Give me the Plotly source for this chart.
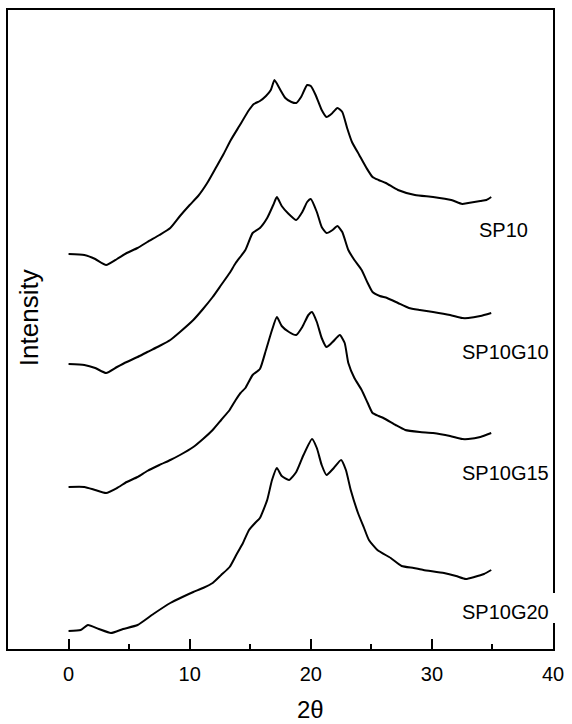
import plotly.graph_objects as go

# ---- data (2-theta, intensity in arbitrary units) ----
sp10_x = [0.0, 1.3, 2.2, 3.1, 4.0, 4.8, 5.7, 6.5, 7.5, 8.4, 9.2, 10.0, 10.7, 11.5, 12.2, 12.8, 13.4, 14.1,
          14.9, 15.3, 15.8, 16.3, 16.7, 17.0, 17.4, 17.9, 18.4, 18.8, 19.2, 19.7, 20.0, 20.4, 20.9, 21.3,
          21.7, 22.2, 22.6, 23.0, 23.4, 24.0, 24.6, 25.1, 25.6, 26.2, 27.2, 28.6, 30.1, 31.6, 32.5, 33.0,
          34.0, 34.5, 34.9]
sp10_y = [395, 394, 390, 384, 390, 396, 401, 407, 414, 421, 433, 444, 453, 467, 482, 495, 509, 523,
          539, 545, 548, 553, 559, 569, 561, 551, 547, 546, 552, 564, 563, 554, 539, 532,
          535, 541, 537, 521, 507, 494, 481, 472, 469, 466, 459, 454, 452, 449, 445, 446,
          448, 449, 452]

sp10g10_x = [0.0, 1.3, 2.2, 3.1, 4.0, 4.8, 5.7, 6.5, 7.5, 8.4, 9.2, 10.3, 11.1, 11.9, 12.6, 13.3, 13.8, 14.6,
             15.2, 15.8, 16.4, 16.9, 17.2, 17.6, 18.1, 18.8, 19.3, 19.7, 20.0, 20.5, 20.9, 21.3, 21.8, 22.2,
             22.6, 23.1, 23.6, 24.2, 24.7, 25.1, 25.7, 26.3, 27.2, 28.1, 29.0, 30.1, 31.5, 32.5, 33.0, 34.0, 34.9]
sp10g10_y = [285, 284, 281, 276, 282, 287, 292, 297, 303, 309, 317, 329, 340, 352, 364, 376, 386, 399,
             416, 421, 431, 444, 452, 443, 436, 429, 437, 447, 450, 437, 422, 416, 419, 423,
             417, 399, 389, 379, 366, 357, 353, 351, 346, 341, 339, 337, 334, 331, 331, 333, 336]

sp10g15_x = [0.0, 1.3, 2.2, 3.1, 4.0, 4.8, 5.7, 6.5, 7.5, 8.4, 9.2, 10.3, 11.1, 11.9, 12.6, 13.3, 13.8, 14.2,
             14.6, 15.2, 15.8, 16.3, 16.8, 17.2, 17.6, 18.2, 18.8, 19.3, 19.8, 20.1, 20.5, 20.9, 21.3, 21.8,
             22.4, 22.8, 23.1, 23.6, 24.2, 24.7, 25.1, 25.6, 26.0, 27.0, 27.8, 29.0, 30.1, 31.5, 32.5, 33.0,
             34.0, 34.9]
sp10g15_y = [162, 162, 159, 156, 161, 167, 172, 178, 184, 189, 194, 202, 210, 219, 229, 239, 249, 256,
             261, 274, 280, 299, 319, 332, 323, 317, 314, 322, 334, 337, 327, 311, 302, 307,
             314, 306, 286, 271, 259, 246, 236, 233, 231, 224, 219, 217, 216, 213, 210, 210,
             212, 216]

sp10g20_x = [0.0, 1.0, 1.6, 2.5, 3.5, 4.5, 5.7, 7.0, 8.4, 9.4, 10.3, 11.1, 11.9, 12.6, 13.3, 13.8, 14.4, 14.9,
             15.4, 15.8, 16.4, 16.8, 17.2, 17.6, 18.2, 18.8, 19.4, 20.1, 20.5, 20.9, 21.3, 21.9, 22.5, 22.9,
             23.3, 23.9, 24.4, 24.8, 25.5, 26.6, 27.5, 28.5, 29.3, 31.0, 32.0, 32.8, 33.5, 34.3, 34.9]
sp10g20_y = [18, 19, 24, 20, 16, 20, 24, 35, 46, 52, 57, 61, 66, 74, 82, 93, 106, 119,
             126, 131, 149, 169, 181, 173, 169, 177, 194, 210, 201, 184, 174, 181, 189, 179,
             159, 136, 121, 109, 99, 91, 83, 81, 79, 76, 73, 70, 72, 75, 79]

series_names = ["SP10", "SP10G10", "SP10G15", "SP10G20"]
label_x = [35.9, 36.1, 36.1, 36.1]
label_y = [419, 297, 176, 37]

x_ticks = [0, 10, 20, 30, 40]
x_range = [-5, 40]
y_range = [0, 639]

FONT = "Liberation Sans, Arial, sans-serif"

fig = go.Figure()
for name, xs, ys in zip(series_names,
                        [sp10_x, sp10g10_x, sp10g15_x, sp10g20_x],
                        [sp10_y, sp10g10_y, sp10g15_y, sp10g20_y]):
    fig.add_trace(go.Scatter(x=xs, y=ys, mode="lines", name=name,
                             line=dict(color="black", width=2, shape="spline", smoothing=0.5),
                             showlegend=False))

# small break in the right frame next to the lowest label
fig.add_shape(type="line", xref="paper", yref="y", x0=1, x1=1, y0=26, y1=56,
              line=dict(color="white", width=4), layer="above")

for name, lx, ly in zip(series_names, label_x, label_y):
    fig.add_annotation(x=lx, y=ly, xref="x", yref="y", text=name, showarrow=False,
                       font=dict(family=FONT, size=20, color="black"),
                       xanchor="center", yanchor="middle")

# axis titles
fig.add_annotation(x=20, y=-0.095, xref="x", yref="paper",
                   text="2θ", showarrow=False, font=dict(family=FONT, size=24, color="black"),
                   xanchor="center", yanchor="middle")
fig.add_annotation(x=0.040, y=0.519, xref="paper", yref="paper", text="Intensity",
                   showarrow=False, textangle=-90,
                   font=dict(family=FONT, size=26, color="black"),
                   xanchor="center", yanchor="middle")

fig.update_layout(
    width=572, height=724,
    margin=dict(l=8, r=14, t=10, b=75),
    paper_bgcolor="white", plot_bgcolor="white",
    font=dict(family=FONT, color="black"),
    xaxis=dict(range=x_range, tickvals=x_ticks, ticks="inside", ticklen=10, tickwidth=2,
               tickcolor="black", showline=True, linecolor="black", linewidth=2, mirror=True,
               showgrid=False, zeroline=False, tickfont=dict(size=20, family=FONT),
               ticklabelstandoff=6,
               minor=dict(dtick=5, tick0=0, ticks="inside", ticklen=5, tickwidth=2, tickcolor="black",
                          showgrid=False)),
    yaxis=dict(range=y_range, showticklabels=False, ticks="", showline=True, mirror=True,
               linecolor="black", linewidth=2, showgrid=False, zeroline=False),
)

fig.write_html("out.html", config={"displayModeBar": False},
               post_script="document.body.style.margin='0px';")
